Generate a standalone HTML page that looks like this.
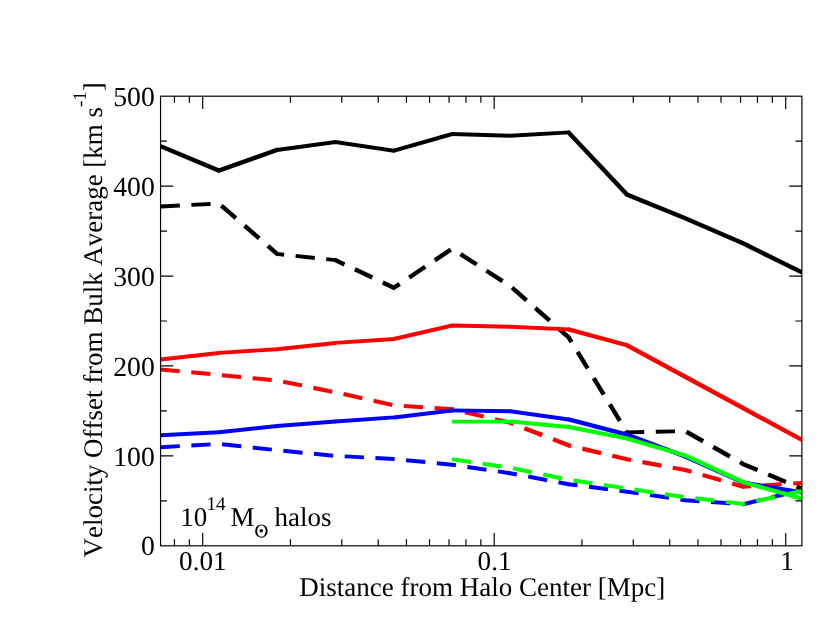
<!DOCTYPE html>
<html><head><meta charset="utf-8"><title>Velocity Offset</title>
<style>
html,body{margin:0;padding:0;background:#fff;}
body{width:830px;height:642px;overflow:hidden;font-family:"Liberation Serif",serif;}
svg{display:block;will-change:transform;}
text{font-family:"Liberation Serif",serif;fill:#000;font-kerning:none;font-variant-ligatures:none;text-rendering:geometricPrecision;}
</style></head><body>
<svg width="830" height="642" viewBox="0 0 830 642">
<rect x="0" y="0" width="830" height="642" fill="#fff"/>
<defs><clipPath id="plot"><rect x="160.55" y="96.20" width="641.35" height="449.60"/></clipPath></defs>

<defs><clipPath id="c1"><rect x="451.55" y="96.20" width="117.60" height="449.60"/></clipPath><clipPath id="c2"><rect x="276.65" y="96.20" width="117.60" height="449.60"/></clipPath><clipPath id="c3"><rect x="393.25" y="96.20" width="59.30" height="449.60"/></clipPath><clipPath id="c4"><rect x="218.35" y="96.20" width="59.30" height="449.60"/></clipPath><clipPath id="c5"><rect x="160.55" y="96.20" width="58.80" height="449.60"/><rect x="568.15" y="96.20" width="233.75" height="449.60"/></clipPath><clipPath id="c6"><rect x="160.55" y="96.20" width="58.80" height="449.60"/><rect x="626.45" y="96.20" width="59.30" height="449.60"/></clipPath><clipPath id="c7"><rect x="276.65" y="96.20" width="59.30" height="449.60"/></clipPath><clipPath id="c8"><rect x="218.35" y="96.20" width="59.30" height="449.60"/><rect x="334.95" y="96.20" width="292.50" height="449.60"/><rect x="684.75" y="96.20" width="117.15" height="449.60"/></clipPath><clipPath id="c9"><rect x="218.35" y="96.20" width="59.30" height="449.60"/><rect x="334.95" y="96.20" width="59.30" height="449.60"/><rect x="451.55" y="96.20" width="117.60" height="449.60"/></clipPath><clipPath id="c10"><rect x="160.55" y="96.20" width="58.80" height="449.60"/><rect x="276.65" y="96.20" width="59.30" height="449.60"/></clipPath><clipPath id="c11"><rect x="393.25" y="96.20" width="59.30" height="449.60"/><rect x="568.15" y="96.20" width="59.30" height="449.60"/></clipPath><clipPath id="c12"><rect x="626.45" y="96.20" width="175.45" height="449.60"/></clipPath><clipPath id="c13"><rect x="393.25" y="96.20" width="59.30" height="449.60"/><rect x="743.05" y="96.20" width="58.85" height="449.60"/></clipPath><clipPath id="c14"><rect x="160.55" y="96.20" width="117.10" height="449.60"/></clipPath><clipPath id="c15"><rect x="276.65" y="96.20" width="117.60" height="449.60"/><rect x="626.45" y="96.20" width="59.30" height="449.60"/></clipPath><clipPath id="c16"><rect x="451.55" y="96.20" width="59.30" height="449.60"/><rect x="568.15" y="96.20" width="59.30" height="449.60"/><rect x="684.75" y="96.20" width="59.30" height="449.60"/></clipPath><clipPath id="c17"><rect x="509.85" y="96.20" width="59.30" height="449.60"/></clipPath><clipPath id="c18"><rect x="160.55" y="96.20" width="58.80" height="449.60"/><rect x="334.95" y="96.20" width="59.30" height="449.60"/><rect x="451.55" y="96.20" width="59.30" height="449.60"/></clipPath><clipPath id="c19"><rect x="218.35" y="96.20" width="117.60" height="449.60"/><rect x="393.25" y="96.20" width="59.30" height="449.60"/><rect x="509.85" y="96.20" width="59.30" height="449.60"/></clipPath><clipPath id="c20"><rect x="743.05" y="96.20" width="58.85" height="449.60"/></clipPath><clipPath id="c21"><rect x="568.15" y="96.20" width="59.30" height="449.60"/></clipPath><clipPath id="c22"><rect x="626.45" y="96.20" width="59.30" height="449.60"/></clipPath><clipPath id="c23"><rect x="684.75" y="96.20" width="59.30" height="449.60"/></clipPath><clipPath id="c24"><rect x="160.55" y="96.20" width="58.80" height="449.60"/><rect x="334.95" y="96.20" width="59.30" height="449.60"/><rect x="684.75" y="96.20" width="59.30" height="449.60"/></clipPath><clipPath id="c25"><rect x="218.35" y="96.20" width="117.60" height="449.60"/><rect x="393.25" y="96.20" width="117.60" height="449.60"/><rect x="568.15" y="96.20" width="117.60" height="449.60"/></clipPath><clipPath id="c26"><rect x="509.85" y="96.20" width="59.30" height="449.60"/></clipPath><clipPath id="c27"><rect x="743.05" y="96.20" width="58.85" height="449.60"/></clipPath><clipPath id="c28"><rect x="451.55" y="96.20" width="59.30" height="449.60"/></clipPath><clipPath id="c29"><rect x="509.85" y="96.20" width="59.30" height="449.60"/></clipPath><clipPath id="c30"><rect x="568.15" y="96.20" width="59.30" height="449.60"/></clipPath><clipPath id="c31"><rect x="626.45" y="96.20" width="59.30" height="449.60"/><rect x="743.05" y="96.20" width="58.85" height="449.60"/></clipPath><clipPath id="c32"><rect x="684.75" y="96.20" width="59.30" height="449.60"/></clipPath><clipPath id="c33"><rect x="451.55" y="96.20" width="59.30" height="449.60"/><rect x="568.15" y="96.20" width="175.90" height="449.60"/></clipPath><clipPath id="c34"><rect x="509.85" y="96.20" width="59.30" height="449.60"/><rect x="743.05" y="96.20" width="58.85" height="449.60"/></clipPath></defs>
<g fill="none" stroke-linejoin="miter" stroke-linecap="butt">
<polyline clip-path="url(#c1)" points="160.6,146.2 218.9,170.6 277.1,149.9 335.4,142.1 393.8,150.7 452.1,134.0 510.3,135.7 568.6,132.4 627.0,194.6 685.2,218.3 743.5,243.6 801.9,272.3" stroke="#000" stroke-width="3.9"/>
<polyline clip-path="url(#c2)" points="160.6,146.2 218.9,170.6 277.1,149.9 335.4,142.1 393.8,150.7 452.1,134.0 510.3,135.7 568.6,132.4 627.0,194.6 685.2,218.3 743.5,243.6 801.9,272.3" stroke="#000" stroke-width="4.0"/>
<polyline clip-path="url(#c3)" points="160.6,146.2 218.9,170.6 277.1,149.9 335.4,142.1 393.8,150.7 452.1,134.0 510.3,135.7 568.6,132.4 627.0,194.6 685.2,218.3 743.5,243.6 801.9,272.3" stroke="#000" stroke-width="4.2"/>
<polyline clip-path="url(#c4)" points="160.6,146.2 218.9,170.6 277.1,149.9 335.4,142.1 393.8,150.7 452.1,134.0 510.3,135.7 568.6,132.4 627.0,194.6 685.2,218.3 743.5,243.6 801.9,272.3" stroke="#000" stroke-width="4.3"/>
<polyline clip-path="url(#c5)" points="160.6,146.2 218.9,170.6 277.1,149.9 335.4,142.1 393.8,150.7 452.1,134.0 510.3,135.7 568.6,132.4 627.0,194.6 685.2,218.3 743.5,243.6 801.9,272.3" stroke="#000" stroke-width="4.4"/>
<polyline clip-path="url(#c6)" points="160.6,206.5 218.9,203.5 277.1,253.9 335.4,260.1 393.8,287.8 452.1,248.7 510.3,286.1 568.6,337.3 627.0,432.4 685.2,431.1 743.5,464.2 801.9,488.7" stroke="#000" stroke-width="3.9" stroke-dasharray="19.25 11.55"/>
<polyline clip-path="url(#c7)" points="160.6,206.5 218.9,203.5 277.1,253.9 335.4,260.1 393.8,287.8 452.1,248.7 510.3,286.1 568.6,337.3 627.0,432.4 685.2,431.1 743.5,464.2 801.9,488.7" stroke="#000" stroke-width="4.0" stroke-dasharray="19.25 11.55"/>
<polyline clip-path="url(#c8)" points="160.6,206.5 218.9,203.5 277.1,253.9 335.4,260.1 393.8,287.8 452.1,248.7 510.3,286.1 568.6,337.3 627.0,432.4 685.2,431.1 743.5,464.2 801.9,488.7" stroke="#000" stroke-width="4.4" stroke-dasharray="19.25 11.55"/>
<polyline clip-path="url(#c9)" points="160.6,359.4 218.9,352.9 277.1,349.2 335.4,342.9 393.8,339.0 452.1,325.5 510.3,326.8 568.6,329.4 627.0,345.3 685.2,376.7 743.5,408.3 801.9,439.9" stroke="#f00" stroke-width="3.9"/>
<polyline clip-path="url(#c10)" points="160.6,359.4 218.9,352.9 277.1,349.2 335.4,342.9 393.8,339.0 452.1,325.5 510.3,326.8 568.6,329.4 627.0,345.3 685.2,376.7 743.5,408.3 801.9,439.9" stroke="#f00" stroke-width="4.0"/>
<polyline clip-path="url(#c11)" points="160.6,359.4 218.9,352.9 277.1,349.2 335.4,342.9 393.8,339.0 452.1,325.5 510.3,326.8 568.6,329.4 627.0,345.3 685.2,376.7 743.5,408.3 801.9,439.9" stroke="#f00" stroke-width="4.2"/>
<polyline clip-path="url(#c12)" points="160.6,359.4 218.9,352.9 277.1,349.2 335.4,342.9 393.8,339.0 452.1,325.5 510.3,326.8 568.6,329.4 627.0,345.3 685.2,376.7 743.5,408.3 801.9,439.9" stroke="#f00" stroke-width="4.4"/>
<polyline clip-path="url(#c13)" points="160.6,369.4 218.9,374.9 277.1,380.6 335.4,392.3 393.8,405.4 452.1,409.1 510.3,422.8 568.6,445.3 627.0,459.3 685.2,470.0 743.5,486.8 801.9,483.0" stroke="#f00" stroke-width="3.9" stroke-dasharray="19.25 11.55"/>
<polyline clip-path="url(#c14)" points="160.6,369.4 218.9,374.9 277.1,380.6 335.4,392.3 393.8,405.4 452.1,409.1 510.3,422.8 568.6,445.3 627.0,459.3 685.2,470.0 743.5,486.8 801.9,483.0" stroke="#f00" stroke-width="4.0" stroke-dasharray="19.25 11.55"/>
<polyline clip-path="url(#c15)" points="160.6,369.4 218.9,374.9 277.1,380.6 335.4,392.3 393.8,405.4 452.1,409.1 510.3,422.8 568.6,445.3 627.0,459.3 685.2,470.0 743.5,486.8 801.9,483.0" stroke="#f00" stroke-width="4.1" stroke-dasharray="19.25 11.55"/>
<polyline clip-path="url(#c16)" points="160.6,369.4 218.9,374.9 277.1,380.6 335.4,392.3 393.8,405.4 452.1,409.1 510.3,422.8 568.6,445.3 627.0,459.3 685.2,470.0 743.5,486.8 801.9,483.0" stroke="#f00" stroke-width="4.2" stroke-dasharray="19.25 11.55"/>
<polyline clip-path="url(#c17)" points="160.6,369.4 218.9,374.9 277.1,380.6 335.4,392.3 393.8,405.4 452.1,409.1 510.3,422.8 568.6,445.3 627.0,459.3 685.2,470.0 743.5,486.8 801.9,483.0" stroke="#f00" stroke-width="4.4" stroke-dasharray="19.25 11.55"/>
<polyline clip-path="url(#c18)" points="160.6,435.2 218.9,432.2 277.1,426.0 335.4,421.5 393.8,417.4 452.1,410.4 510.3,411.2 568.6,419.4 627.0,434.6 685.2,456.5 743.5,482.6 801.9,492.4" stroke="#00f" stroke-width="3.9"/>
<polyline clip-path="url(#c19)" points="160.6,435.2 218.9,432.2 277.1,426.0 335.4,421.5 393.8,417.4 452.1,410.4 510.3,411.2 568.6,419.4 627.0,434.6 685.2,456.5 743.5,482.6 801.9,492.4" stroke="#00f" stroke-width="4.0"/>
<polyline clip-path="url(#c20)" points="160.6,435.2 218.9,432.2 277.1,426.0 335.4,421.5 393.8,417.4 452.1,410.4 510.3,411.2 568.6,419.4 627.0,434.6 685.2,456.5 743.5,482.6 801.9,492.4" stroke="#00f" stroke-width="4.1"/>
<polyline clip-path="url(#c21)" points="160.6,435.2 218.9,432.2 277.1,426.0 335.4,421.5 393.8,417.4 452.1,410.4 510.3,411.2 568.6,419.4 627.0,434.6 685.2,456.5 743.5,482.6 801.9,492.4" stroke="#00f" stroke-width="4.2"/>
<polyline clip-path="url(#c22)" points="160.6,435.2 218.9,432.2 277.1,426.0 335.4,421.5 393.8,417.4 452.1,410.4 510.3,411.2 568.6,419.4 627.0,434.6 685.2,456.5 743.5,482.6 801.9,492.4" stroke="#00f" stroke-width="4.3"/>
<polyline clip-path="url(#c23)" points="160.6,435.2 218.9,432.2 277.1,426.0 335.4,421.5 393.8,417.4 452.1,410.4 510.3,411.2 568.6,419.4 627.0,434.6 685.2,456.5 743.5,482.6 801.9,492.4" stroke="#00f" stroke-width="4.4"/>
<polyline clip-path="url(#c24)" points="160.6,447.2 218.9,443.9 277.1,450.2 335.4,455.9 393.8,459.0 452.1,464.7 510.3,473.2 568.6,484.2 627.0,491.7 685.2,500.2 743.5,504.2 801.9,489.9" stroke="#00f" stroke-width="3.9" stroke-dasharray="19.25 11.55"/>
<polyline clip-path="url(#c25)" points="160.6,447.2 218.9,443.9 277.1,450.2 335.4,455.9 393.8,459.0 452.1,464.7 510.3,473.2 568.6,484.2 627.0,491.7 685.2,500.2 743.5,504.2 801.9,489.9" stroke="#00f" stroke-width="4.0" stroke-dasharray="19.25 11.55"/>
<polyline clip-path="url(#c26)" points="160.6,447.2 218.9,443.9 277.1,450.2 335.4,455.9 393.8,459.0 452.1,464.7 510.3,473.2 568.6,484.2 627.0,491.7 685.2,500.2 743.5,504.2 801.9,489.9" stroke="#00f" stroke-width="4.1" stroke-dasharray="19.25 11.55"/>
<polyline clip-path="url(#c27)" points="160.6,447.2 218.9,443.9 277.1,450.2 335.4,455.9 393.8,459.0 452.1,464.7 510.3,473.2 568.6,484.2 627.0,491.7 685.2,500.2 743.5,504.2 801.9,489.9" stroke="#00f" stroke-width="4.2" stroke-dasharray="19.25 11.55"/>
<polyline clip-path="url(#c28)" points="452.1,421.6 510.3,421.6 568.6,426.9 627.0,438.6 685.2,455.5 743.5,482.2 801.9,498.7" stroke="#0f0" stroke-width="3.9"/>
<polyline clip-path="url(#c29)" points="452.1,421.6 510.3,421.6 568.6,426.9 627.0,438.6 685.2,455.5 743.5,482.2 801.9,498.7" stroke="#0f0" stroke-width="4.0"/>
<polyline clip-path="url(#c30)" points="452.1,421.6 510.3,421.6 568.6,426.9 627.0,438.6 685.2,455.5 743.5,482.2 801.9,498.7" stroke="#0f0" stroke-width="4.1"/>
<polyline clip-path="url(#c31)" points="452.1,421.6 510.3,421.6 568.6,426.9 627.0,438.6 685.2,455.5 743.5,482.2 801.9,498.7" stroke="#0f0" stroke-width="4.2"/>
<polyline clip-path="url(#c32)" points="452.1,421.6 510.3,421.6 568.6,426.9 627.0,438.6 685.2,455.5 743.5,482.2 801.9,498.7" stroke="#0f0" stroke-width="4.4"/>
<polyline clip-path="url(#c33)" points="452.1,459.3 510.3,467.8 568.6,479.8 627.0,488.5 685.2,497.2 743.5,503.9 801.9,491.1" stroke="#0f0" stroke-width="4.0" stroke-dasharray="19.25 11.55"/>
<polyline clip-path="url(#c34)" points="452.1,459.3 510.3,467.8 568.6,479.8 627.0,488.5 685.2,497.2 743.5,503.9 801.9,491.1" stroke="#0f0" stroke-width="4.1" stroke-dasharray="19.25 11.55"/>
</g>
<path d="M160.55 500.84h6.50M801.90 500.84h-6.50M160.55 455.88h12.70M801.90 455.88h-12.70M160.55 410.92h6.50M801.90 410.92h-6.50M160.55 365.96h12.70M801.90 365.96h-12.70M160.55 321.00h6.50M801.90 321.00h-6.50M160.55 276.04h12.70M801.90 276.04h-12.70M160.55 231.08h6.50M801.90 231.08h-6.50M160.55 186.12h12.70M801.90 186.12h-12.70M160.55 141.16h6.50M801.90 141.16h-6.50M174.45 545.80v-6.50M174.45 96.20v6.50M189.36 545.80v-6.50M189.36 96.20v6.50M202.70 545.80v-12.70M202.70 96.20v12.70M290.45 545.80v-6.50M290.45 96.20v6.50M341.78 545.80v-6.50M341.78 96.20v6.50M378.20 545.80v-6.50M378.20 96.20v6.50M406.45 545.80v-6.50M406.45 96.20v6.50M429.53 545.80v-6.50M429.53 96.20v6.50M449.05 545.80v-6.50M449.05 96.20v6.50M465.95 545.80v-6.50M465.95 96.20v6.50M480.86 545.80v-6.50M480.86 96.20v6.50M494.20 545.80v-12.70M494.20 96.20v12.70M581.95 545.80v-6.50M581.95 96.20v6.50M633.28 545.80v-6.50M633.28 96.20v6.50M669.70 545.80v-6.50M669.70 96.20v6.50M697.95 545.80v-6.50M697.95 96.20v6.50M721.03 545.80v-6.50M721.03 96.20v6.50M740.55 545.80v-6.50M740.55 96.20v6.50M757.45 545.80v-6.50M757.45 96.20v6.50M772.36 545.80v-6.50M772.36 96.20v6.50M785.70 545.80v-12.70M785.70 96.20v12.70" stroke="#000" stroke-width="1.18" fill="none"/>
<rect x="160.55" y="96.20" width="641.35" height="449.60" fill="none" stroke="#000" stroke-width="1.18"/>
<text x="154.8" y="555.4" font-size="27.7" text-anchor="end">0</text>
<text x="154.8" y="465.5" font-size="27.7" text-anchor="end">100</text>
<text x="154.8" y="375.6" font-size="27.7" text-anchor="end">200</text>
<text x="154.8" y="285.6" font-size="27.7" text-anchor="end">300</text>
<text x="154.8" y="195.7" font-size="27.7" text-anchor="end">400</text>
<text x="154.8" y="105.8" font-size="27.7" text-anchor="end">500</text>
<text x="202.9" y="570.3" font-size="27.2" text-anchor="middle">0.01</text>
<text x="494.6" y="570.3" font-size="27.2" text-anchor="middle">0.1</text>
<text x="787.1" y="570.3" font-size="27.2" text-anchor="middle">1</text>
<text x="482.2" y="595.8" font-size="27.0" text-anchor="middle">Distance from Halo Center [Mpc]</text>
<text transform="translate(101.9,557.4) rotate(-90)" font-size="26.95">Velocity Offset from Bulk Average [km s<tspan font-size="19" dy="-16.2">-1</tspan><tspan dy="16.2">]</tspan></text>
<text x="180.3" y="526.2" font-size="27">10</text>
<text x="206.4" y="510.1" font-size="19.2">14</text>
<text x="230.5" y="526.2" font-size="27">M</text>
<path fill-rule="evenodd" fill="#000" d="M255.1 531.05a6.3 6.65 0 1 0 12.6 0a6.3 6.65 0 1 0 -12.6 0zM257.1 531.05a4.3 5.8 0 1 0 8.6 0a4.3 5.8 0 1 0 -8.6 0z"/><circle cx="261.25" cy="530.8" r="1.75" fill="#000"/>
<text x="274.6" y="526.2" font-size="27">halos</text>
</svg></body></html>
